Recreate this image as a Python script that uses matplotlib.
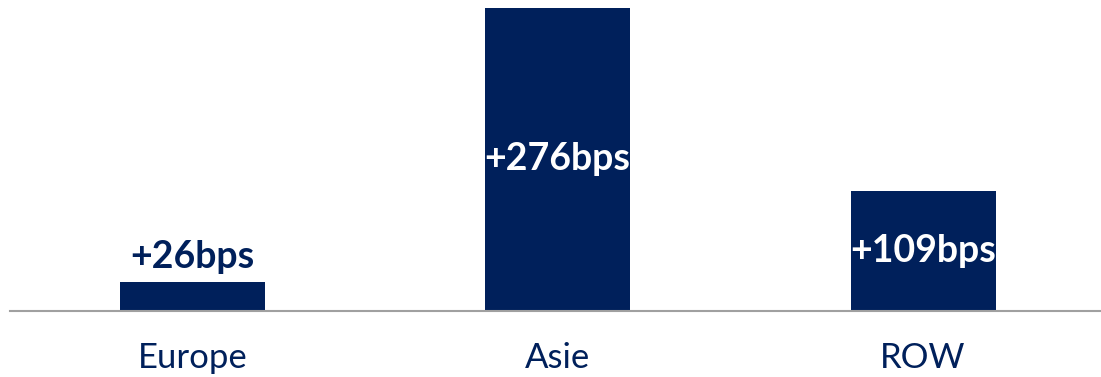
import matplotlib
matplotlib.use("Agg")
import matplotlib.pyplot as plt

categories = ["Europe", "Asie", "ROW"]
values = [26, 276, 109]
labels = ["+26bps", "+276bps", "+109bps"]

navy = "#00205B"
plt.rcParams['font.family'] = ['Lato', 'DejaVu Sans']

fig = plt.figure(figsize=(11.01, 3.77), dpi=100)
ax = fig.add_axes([10/1101, 66/377, 1 - 10/1101, 303/377])
x = list(range(len(categories)))
bars = ax.bar(x, values, width=0.397, color=navy)
ax.set_xlim(-0.499, 2.487)
ax.set_ylim(0, 276)

for i, (v, lab) in enumerate(zip(values, labels)):
    if v < 60:
        ax.annotate(lab, (i, v), xytext=(0, 6), textcoords="offset points",
                    ha="center", va="bottom", fontsize=27, fontweight="bold", color=navy)
    else:
        ax.text(i, v / 2, lab, ha="center", va="center", fontsize=27,
                fontweight="bold", color="white")

for s in ["top", "right", "left"]:
    ax.spines[s].set_visible(False)
ax.spines["bottom"].set_color("#a0a0a0")
ax.spines["bottom"].set_linewidth(1.5)
ax.set_yticks([])
ax.set_xticks(x)
ax.set_xticklabels(categories, fontsize=25, color=navy)
ax.tick_params(axis="x", length=0, pad=22)

fig.savefig("out.png", dpi=100)
